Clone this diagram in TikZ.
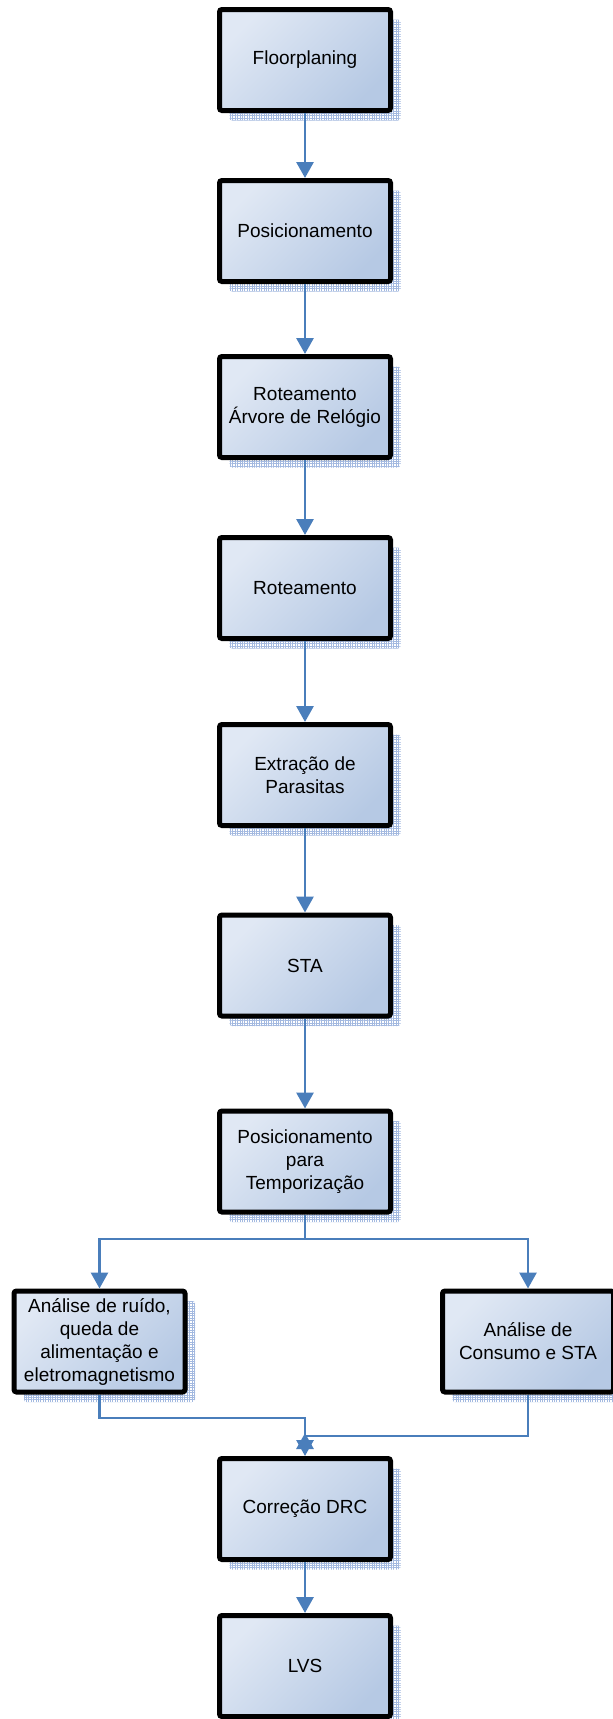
\documentclass[tikz,border=0pt]{standalone}
\usepackage{fontspec}
\setmainfont{Liberation Sans}
\usetikzlibrary{arrows.meta,shadows,patterns.meta}
\definecolor{boxlight}{HTML}{E0E8F4}
\definecolor{boxdark}{HTML}{B6C9E4}
\definecolor{linkblue}{HTML}{4A7EBB}
\definecolor{shadowblue}{HTML}{A3B9E0}
\tikzset{
  stepbox/.style={draw=black, line width=5pt, rounded corners=2.5pt,
    minimum width=171pt, minimum height=101pt, inner sep=0pt, align=center,
    top color=boxlight, bottom color=boxdark, shading angle=45,
    font=\fontsize{19}{23}\selectfont,
    general shadow={shadow xshift=10pt, shadow yshift=-10pt, draw=none,
      pattern={Hatch[angle=0,distance=2.4pt,line width=0.7pt]},
      pattern color=shadowblue}},
  link/.style={draw=linkblue, line width=2.9pt, -{Triangle[width=17pt,length=16pt]}},
}
\begin{document}
\begin{tikzpicture}[x=1pt,y=-1pt]
\useasboundingbox (0,0) rectangle (613,1719);
\clip (0,0) rectangle (613,1719);
\fill[white] (0,0) rectangle (613,1719);

% main flow
\node[stepbox] (b1) at (305,60) {Floorplaning};
\node[stepbox] (b2) at (305,231) {Posicionamento};
\node[stepbox] (b3) at (305,407) {Roteamento\\Árvore de Relógio};
\node[stepbox] (b4) at (305,588) {Roteamento};
\node[stepbox] (b5) at (305,775) {Extração de\\Parasitas};
\node[stepbox] (b6) at (305,965.5) {STA};
\node[stepbox] (b7) at (305,1161.5) {Posicionamento\\para\\Temporização};
% parallel analyses
\node[stepbox] (bl) at (99.5,1341.5) {Análise de ruído,\\queda de\\alimentação e\\eletromagnetismo};
\node[stepbox] (br) at (528,1341.5) {Análise de\\Consumo e STA};
% sign-off
\node[stepbox] (b8) at (305,1509) {Correção DRC};
\node[stepbox] (b9) at (305,1666) {LVS};

% connectors
\draw[link] (b1) -- (b2);
\draw[link] (b2) -- (b3);
\draw[link] (b3) -- (b4);
\draw[link] (b4) -- (b5);
\draw[link] (b5) -- (b6);
\draw[link] (b6) -- (b7);
\coordinate (split) at (305,1239);
\draw[link] (b7.south) -- (split) -| (bl.north);
\draw[link] (split) -| (br.north);
\coordinate (joinl) at (305,1418);
\coordinate (joinr) at (305,1436);
\coordinate (joinlow) at (305,1450);
\coordinate (joinup) at (305,1433);
\draw[link] (bl.south) |- (joinl) -- (b8.north);
\draw[link] (br.south) |- (joinr) -- (joinlow) -- (joinup);
\draw[link] (b8) -- (b9);
\end{tikzpicture}
\end{document}
